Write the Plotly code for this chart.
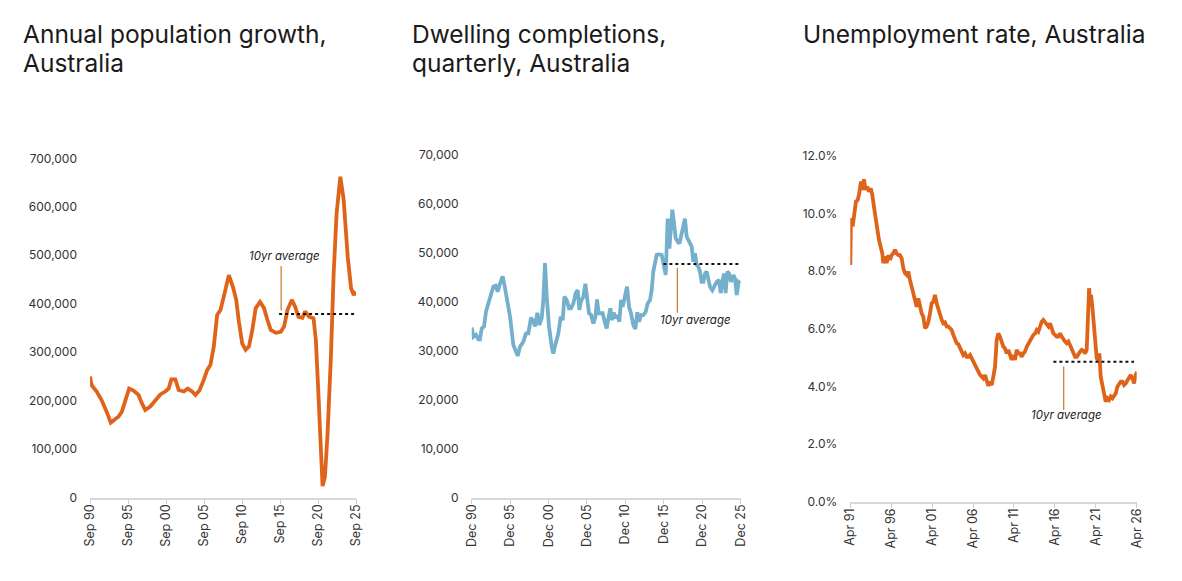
import plotly.graph_objects as go

# ---------- Data ----------
# Chart 1: annual population growth (decimal year, persons)
pop_x = [1990.75, 1990.97, 1991.63, 1992.29, 1992.95, 1993.48, 1994.05, 1994.49, 1994.93, 1995.37,
         1995.90, 1996.47, 1997.13, 1997.57, 1998.02, 1998.68, 1999.34, 2000.00, 2000.66, 2001.10,
         2001.45, 2001.98, 2002.42, 2003.08, 2003.61, 2004.18, 2004.62, 2005.15, 2005.72, 2006.16,
         2006.60, 2007.04, 2007.48, 2007.92, 2008.45, 2009.02, 2009.55, 2009.99, 2010.34, 2010.78,
         2011.23, 2011.67, 2012.11, 2012.55, 2013.12, 2013.65, 2014.09, 2014.53, 2015.19, 2015.85,
         2016.29, 2016.73, 2017.30, 2017.74, 2018.18, 2018.71, 2019.06, 2019.59, 2020.16, 2020.47,
         2020.78, 2021.13, 2021.35, 2021.66, 2022.01, 2022.45, 2022.81, 2023.20, 2023.69, 2024.13,
         2024.66, 2025.10, 2025.45, 2025.75]
pop_y = [250000, 232000, 219000, 201000, 177000, 155000, 162000, 167000, 177000, 201000,
         225000, 221000, 212000, 195000, 181000, 188000, 201000, 213000, 219000, 225000,
         244000, 244000, 222000, 219000, 225000, 219000, 212000, 221000, 243000, 263000,
         274000, 312000, 377000, 387000, 421000, 459000, 435000, 408000, 363000, 318000,
         305000, 312000, 346000, 391000, 404000, 391000, 367000, 346000, 340000, 342000,
         353000, 387000, 408000, 394000, 373000, 371000, 384000, 373000, 370000, 325000,
         222000, 119000, 24000, 43000, 133000, 291000, 463000, 587000, 662000, 614000,
         497000, 432000, 418000, 425000]
pop_avg = 379000
pop_avg_span = [2015.63, 2025.63]

# Chart 2: dwelling completions, quarterly
dw_x = [1990.92, 1991.14, 1991.48, 1991.79, 1992.00, 1992.22, 1992.52, 1992.78, 1993.08, 1993.39,
        1993.74, 1994.04, 1994.30, 1994.61, 1994.95, 1995.26, 1995.56, 1995.91, 1996.34, 1996.64,
        1996.90, 1997.21, 1997.64, 1997.99, 1998.29, 1998.64, 1998.94, 1999.16, 1999.46, 1999.72,
        2000.03, 2000.24, 2000.46, 2000.68, 2000.98, 2001.33, 2001.54, 2001.85, 2002.20, 2002.50,
        2002.76, 2002.98, 2003.28, 2003.58, 2003.84, 2004.15, 2004.45, 2004.71, 2004.93, 2005.14,
        2005.45, 2005.71, 2005.97, 2006.18, 2006.44, 2006.75, 2007.01, 2007.23, 2007.44, 2007.70,
        2007.96, 2008.22, 2008.48, 2008.74, 2008.96, 2009.18, 2009.39, 2009.65, 2009.87, 2010.13,
        2010.35, 2010.56, 2010.87, 2011.13, 2011.39, 2011.65, 2011.95, 2012.21, 2012.47, 2012.69,
        2012.95, 2013.25, 2013.56, 2013.82, 2014.12, 2014.34, 2014.55, 2014.77, 2014.99, 2015.29,
        2015.64, 2015.86, 2016.16, 2016.42, 2016.64, 2016.86, 2017.03, 2017.25, 2017.46, 2017.72,
        2017.94, 2018.15, 2018.37, 2018.67, 2018.89, 2019.19, 2019.54, 2019.76, 2019.97, 2020.19,
        2020.41, 2020.62, 2020.84, 2021.06, 2021.28, 2021.49, 2021.71, 2021.93, 2022.23, 2022.49,
        2022.79, 2023.10, 2023.31, 2023.53, 2023.75, 2023.96, 2024.18, 2024.40, 2024.66, 2024.96,
        2025.18, 2025.40, 2025.66, 2025.92]
dw_y = [34700, 32800, 33200, 32300, 32300, 34500, 34900, 37900, 39600, 41000,
        43000, 43200, 42000, 43700, 45100, 42700, 40300, 36900, 31100, 30100,
        28900, 30800, 31800, 33500, 33500, 36700, 35900, 34900, 37700, 35200,
        36600, 40300, 47800, 41000, 34900, 30800, 29400, 31500, 33500, 36900,
        36200, 41000, 40300, 38600, 38600, 39600, 41700, 42300, 38300, 40000,
        41000, 43600, 40300, 37600, 37300, 35500, 36800, 40400, 37600, 37600,
        37600, 35900, 34500, 36900, 38600, 36200, 37700, 36600, 37200, 35900,
        40300, 38900, 41700, 43000, 38900, 37600, 35200, 34400, 37800, 35900,
        37200, 37200, 37900, 39600, 40300, 42300, 46100, 47500, 49500, 49600,
        49500, 47800, 45400, 56900, 50800, 55300, 58700, 55900, 52900, 52200,
        51800, 53200, 54600, 56900, 53200, 52200, 51200, 48100, 49800, 47500,
        47100, 46100, 44000, 44000, 45700, 46100, 44400, 43000, 42300, 43000,
        44000, 44400, 41700, 44000, 45700, 41700, 46100, 45700, 44000, 45400,
        44700, 41300, 44000, 43700]
dw_avg = 47640
dw_avg_span = [2015.86, 2025.70]

# Chart 3: unemployment rate (%)
un_x = [1991.25, 1991.33, 1991.54, 1991.74, 1991.94, 1992.15, 1992.35, 1992.55, 1992.76, 1992.92,
        1993.12, 1993.33, 1993.53, 1993.74, 1993.94, 1994.14, 1994.35, 1994.55, 1994.75, 1994.96,
        1995.16, 1995.28, 1995.49, 1995.69, 1995.90, 1996.10, 1996.30, 1996.51, 1996.71, 1996.91,
        1997.12, 1997.32, 1997.53, 1997.73, 1997.93, 1998.14, 1998.34, 1998.54, 1998.75, 1998.95,
        1999.16, 1999.36, 1999.56, 1999.77, 1999.97, 2000.17, 2000.38, 2000.58, 2000.79, 2000.99,
        2001.19, 2001.40, 2001.60, 2001.80, 2002.01, 2002.21, 2002.42, 2002.62, 2002.82, 2003.03,
        2003.23, 2003.43, 2003.64, 2003.84, 2004.05, 2004.25, 2004.45, 2004.66, 2004.86, 2005.06,
        2005.27, 2005.47, 2005.68, 2005.88, 2006.08, 2006.29, 2006.49, 2006.69, 2006.90, 2007.10,
        2007.31, 2007.51, 2007.71, 2007.92, 2008.12, 2008.32, 2008.53, 2008.73, 2008.94, 2009.14,
        2009.34, 2009.55, 2009.75, 2009.95, 2010.16, 2010.36, 2010.57, 2010.77, 2010.97, 2011.18,
        2011.38, 2011.58, 2011.79, 2011.99, 2012.20, 2012.40, 2012.60, 2012.81, 2013.01, 2013.21,
        2013.42, 2013.62, 2013.83, 2014.03, 2014.23, 2014.44, 2014.64, 2014.84, 2015.05, 2015.25,
        2015.46, 2015.66, 2015.86, 2016.07, 2016.27, 2016.47, 2016.68, 2016.88, 2017.09, 2017.29,
        2017.49, 2017.70, 2017.90, 2018.10, 2018.31, 2018.51, 2018.72, 2018.92, 2019.12, 2019.33,
        2019.53, 2019.73, 2019.94, 2020.14, 2020.26, 2020.43, 2020.55, 2020.67, 2020.83, 2020.96,
        2021.08, 2021.24, 2021.36, 2021.57, 2021.69, 2021.85, 2022.06, 2022.26, 2022.46, 2022.67,
        2022.87, 2023.07, 2023.28, 2023.48, 2023.69, 2023.89, 2024.09, 2024.30, 2024.50, 2024.71,
        2024.91, 2025.11, 2025.32, 2025.52, 2025.72, 2025.93, 2026.13, 2026.30]
un_y = [8.22, 9.84, 9.55, 10.07, 10.42, 10.47, 10.71, 11.11, 10.82, 11.19,
        10.82, 10.94, 10.76, 10.88, 10.65, 10.24, 9.78, 9.43, 9.09, 8.85,
        8.62, 8.28, 8.51, 8.28, 8.56, 8.39, 8.56, 8.62, 8.74, 8.62,
        8.56, 8.56, 8.45, 8.10, 7.93, 7.87, 7.99, 7.70, 7.47, 7.18,
        7.00, 6.77, 7.06, 6.77, 6.54, 6.42, 6.02, 6.08, 6.25, 6.54,
        6.89, 6.94, 7.18, 6.89, 6.65, 6.48, 6.31, 6.19, 6.22, 6.08,
        6.08, 6.02, 5.96, 5.79, 5.61, 5.50, 5.47, 5.32, 5.15, 5.09,
        5.15, 5.03, 5.03, 5.09, 4.98, 4.86, 4.69, 4.57, 4.51, 4.40,
        4.34, 4.28, 4.40, 4.22, 4.02, 4.17, 4.05, 4.34, 4.69, 5.61,
        5.84, 5.73, 5.56, 5.38, 5.32, 5.15, 5.27, 5.03, 4.92, 5.09,
        4.92, 5.27, 5.15, 5.15, 5.03, 5.15, 5.21, 5.38, 5.50, 5.61,
        5.67, 5.79, 5.84, 5.96, 5.90, 6.08, 6.25, 6.31, 6.22, 6.13,
        6.08, 6.19, 6.02, 5.84, 5.79, 5.73, 5.73, 5.84, 5.73, 5.61,
        5.56, 5.50, 5.56, 5.44, 5.32, 5.15, 5.03, 5.03, 5.15, 5.21,
        5.27, 5.24, 5.15, 5.27, 6.13, 7.41, 7.00, 7.18, 6.77, 6.31,
        5.84, 5.27, 4.98, 4.92, 5.15, 4.34, 4.11, 3.76, 3.47, 3.59,
        3.53, 3.65, 3.59, 3.70, 3.76, 3.99, 4.11, 4.17, 4.17, 4.05,
        4.11, 4.22, 4.34, 4.40, 4.28, 4.11, 4.40, 4.51]
un_avg = 4.86
un_avg_span = [2016.07, 2025.93]

pop_ticks = [1990.75, 1995.75, 2000.75, 2005.75, 2010.75, 2015.75, 2020.75, 2025.75]
pop_ticklabels = ["Sep 90", "Sep 95", "Sep 00", "Sep 05", "Sep 10", "Sep 15", "Sep 20", "Sep 25"]
dw_ticks = [1990.92, 1995.92, 2000.92, 2005.92, 2010.92, 2015.92, 2020.92, 2025.92]
dw_ticklabels = ["Dec 90", "Dec 95", "Dec 00", "Dec 05", "Dec 10", "Dec 15", "Dec 20", "Dec 25"]
un_ticks = [1991.25, 1996.25, 2001.25, 2006.25, 2011.25, 2016.25, 2021.25, 2026.25]
un_ticklabels = ["Apr 91", "Apr 96", "Apr 01", "Apr 06", "Apr 11", "Apr 16", "Apr 21", "Apr 26"]

titles = [["Annual population growth,", "Australia"],
          ["Dwelling completions,", "quarterly, Australia"],
          ["Unemployment rate, Australia"]]

# ---------- Styling ----------
W, H = 1182, 581
ORANGE = "#E0631A"
BLUE = "#74AFCC"
CONN = "#C27A2C"
FONT = "Inter"
TXT = "#333333"

fig = go.Figure()


def px_x(p):
    return p / W


def px_y(p):
    return 1 - p / H


panels = [
    dict(x=pop_x, y=pop_y, color=ORANGE, avg=pop_avg, span=pop_avg_span,
         ticks=pop_ticks, labels=pop_ticklabels, xr=[1990.75, 2025.75],
         yr=[0, 700000], dtick=100000, fmt=",", suffix="",
         xdom=[px_x(90), px_x(356)], ydom=[px_y(497.7), px_y(158.3)],
         ann_x=2016.4, ann_y=498000, conn_x=2015.9, conn_y=[478000, 386000]),
    dict(x=dw_x, y=dw_y, color=BLUE, avg=dw_avg, span=dw_avg_span,
         ticks=dw_ticks, labels=dw_ticklabels, xr=[1990.92, 2025.92],
         yr=[0, 70000], dtick=10000, fmt=",", suffix="",
         xdom=[px_x(471.7), px_x(740.7)], ydom=[px_y(497.7), px_y(154.3)],
         ann_x=2020.06, ann_y=36200, conn_x=2017.68, conn_y=[46800, 37700]),
    dict(x=un_x, y=un_y, color=ORANGE, avg=un_avg, span=un_avg_span,
         ticks=un_ticks, labels=un_ticklabels, xr=[1991.25, 2026.25],
         yr=[0, 12], dtick=2, fmt=".1f", suffix="%",
         xdom=[px_x(850.3), px_x(1136.7)], ydom=[px_y(501.7), px_y(156)],
         ann_x=2017.61, ann_y=3.0, conn_x=2017.33, conn_y=[4.69, 3.18]),
]

layout = {}
for i, p in enumerate(panels, start=1):
    xa = "x" if i == 1 else f"x{i}"
    ya = "y" if i == 1 else f"y{i}"
    fig.add_trace(go.Scatter(x=p["x"], y=p["y"], mode="lines", xaxis=xa, yaxis=ya,
                             line=dict(color=p["color"], width=3.8), showlegend=False,
                             hoverinfo="skip"))
    fig.add_trace(go.Scatter(x=p["span"], y=[p["avg"], p["avg"]], mode="lines",
                             xaxis=xa, yaxis=ya, showlegend=False, hoverinfo="skip",
                             line=dict(color="#111111", width=2, dash="dot")))
    fig.add_trace(go.Scatter(x=[p["conn_x"], p["conn_x"]], y=p["conn_y"], mode="lines",
                             xaxis=xa, yaxis=ya, showlegend=False, hoverinfo="skip",
                             line=dict(color=CONN, width=1.2)))
    fig.add_annotation(x=p["ann_x"], y=p["ann_y"], xref=xa, yref=ya, text="<i>10yr average</i>",
                       showarrow=False, font=dict(family=FONT, size=11.5, color="#222222"))
    key_x = "xaxis" if i == 1 else f"xaxis{i}"
    key_y = "yaxis" if i == 1 else f"yaxis{i}"
    layout[key_x] = dict(domain=p["xdom"], range=p["xr"], anchor=ya, tickmode="array",
                         tickvals=p["ticks"], ticktext=p["labels"], tickangle=-90,
                         showgrid=False, zeroline=False, showline=True, linecolor="#D9D9D9",
                         linewidth=1.5, ticks="outside", ticklen=5, tickcolor="#CFCFCF",
                         automargin=False, ticklabelstandoff=-5,
                         tickfont=dict(family=FONT, size=12.5, color=TXT))
    layout[key_y] = dict(domain=p["ydom"], range=p["yr"], anchor=xa, dtick=p["dtick"],
                         tick0=0, tickformat=p["fmt"], ticksuffix=p["suffix"],
                         showgrid=False, zeroline=False, showline=False,
                         ticklabelstandoff=12, automargin=False,
                         tickfont=dict(family=FONT, size=12, color=TXT))

# titles
title_pos = [22, 411, 802]
for tx, lines in zip(title_pos, titles):
    for j, line in enumerate(lines):
        fig.add_annotation(x=px_x(tx), y=px_y(34 + 29 * j), xref="paper", yref="paper",
                           xanchor="left", yanchor="middle",
                           text=line, showarrow=False, borderpad=0,
                           font=dict(family=FONT, size=24.5, color="#1A1A1A"))

fig.update_layout(width=W, height=H, margin=dict(l=0, r=0, t=0, b=0, autoexpand=False),
                  paper_bgcolor="white", plot_bgcolor="white", **layout)

fig.write_html("out.html")
